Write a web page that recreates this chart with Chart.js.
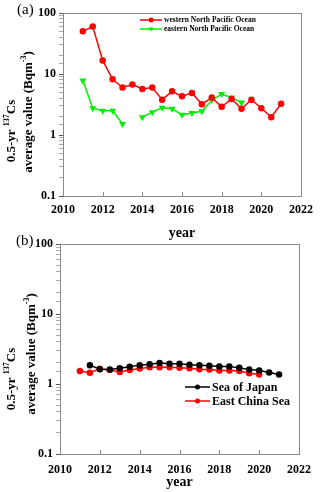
<!DOCTYPE html>
<html>
<head>
<meta charset="utf-8">
<script src="https://cdn.jsdelivr.net/npm/chart.js@4/dist/chart.umd.min.js"></script>
<style>
  body { margin: 0; background: #fff; width: 320px; height: 492px; position: relative; overflow: hidden; }
  .box { position: absolute; left: 0; width: 320px; }
</style>
</head>
<body>
<div class="box" style="top:0;height:242px"><canvas id="chartA"></canvas></div>
<div class="box" style="top:232px;height:260px"><canvas id="chartB"></canvas></div>
<script>
// panel (a): half-year steps 2011 - 2021
const yearsA = [2011, 2011.5, 2012, 2012.5, 2013, 2013.5, 2014, 2014.5, 2015, 2015.5, 2016,
  2016.5, 2017, 2017.5, 2018, 2018.5, 2019, 2019.5, 2020, 2020.5, 2021]
const westernNP = [50, 60, 16.7, 8.2, 6.0, 6.7, 5.7, 6.0, 3.8, 5.2, 4.3, 4.9, 3.2, 4.1, 2.9, 3.9, 2.7, 3.8, 2.75, 1.96, 3.25]
const easternNP = [7.8, 2.75, 2.5, 2.5, 1.52, null, 1.96, 2.37, 2.8, 2.7, 2.14, 2.3, 2.45, 3.7, 4.7, 4.1, 3.4]

// panel (b)
const yearsJapan = [2011.5, 2012, 2012.5, 2013, 2013.5, 2014, 2014.5, 2015, 2015.5, 2016,
  2016.5, 2017, 2017.5, 2018, 2018.5, 2019, 2019.5, 2020, 2020.5, 2021]
const seaOfJapan = [1.86, 1.63, 1.61, 1.68, 1.76, 1.86, 1.92, 2.0, 1.94, 1.94, 1.88, 1.86, 1.82, 1.78, 1.78, 1.70, 1.61, 1.56, 1.46, 1.37]
const yearsChina = [2011, 2011.5, 2012, 2012.5, 2013, 2013.5, 2014, 2014.5, 2015, 2015.5, 2016,
  2016.5, 2017, 2017.5, 2018, 2018.5, 2019, 2019.5, 2020]
const eastChinaSea = [1.53, 1.45, 1.65, 1.59, 1.49, 1.59, 1.67, 1.74, 1.74, 1.74, 1.70, 1.68, 1.63, 1.61, 1.56, 1.56, 1.53, 1.42, 1.37]

const yTicks = [0.1, 1, 10, 100]
const xMin = 2010, xMax = 2022, xStep = 2

const SERIF = "'Liberation Serif', 'Times New Roman', serif"
const FRAME = "#8a8a8a"

function pts(xs, ys) {
  return ys.map((v, i) => ({ x: xs[i], y: v }))
}

// frame, inward x ticks, panel letter, rotated y title, legend
const decor = {
  id: "decor",
  afterDraw(chart, args, opts) {
    const ctx = chart.ctx
    const a = chart.chartArea
    ctx.save()
    ctx.strokeStyle = FRAME
    ctx.lineWidth = 1
    ctx.strokeRect(Math.round(a.left) + 0.5, Math.round(a.top) + 0.5, Math.round(a.right - a.left), Math.round(a.bottom - a.top))

    const xs = chart.scales.x
    ctx.beginPath()
    xs.ticks.forEach(t => {
      const px = Math.round(xs.getPixelForValue(t.value)) + 0.5
      ctx.moveTo(px, a.bottom)
      ctx.lineTo(px, a.bottom - 4)
    })
    ctx.stroke()

    ctx.fillStyle = "#000"
    ctx.font = "15px " + SERIF
    ctx.textAlign = "left"
    ctx.textBaseline = "middle"
    ctx.fillText(opts.letter, opts.letterX, opts.letterY)

    // y title, two lines with superscripts
    opts.titleLines.forEach((line, k) => {
      ctx.save()
      ctx.translate(opts.titleX[k], opts.titleY[k])
      ctx.rotate(-Math.PI / 2)
      let w = 0
      line.forEach(p => {
        ctx.font = "bold " + (p.sup ? 8 : 13) + "px " + SERIF
        w += ctx.measureText(p.t).width
      })
      let x = -w / 2
      ctx.textAlign = "left"
      ctx.textBaseline = "middle"
      line.forEach(p => {
        ctx.font = "bold " + (p.sup ? 8 : 13) + "px " + SERIF
        ctx.fillText(p.t, x, p.sup ? -5 : 0)
        x += ctx.measureText(p.t).width
      })
      ctx.restore()
    })

    // legend
    const L = opts.legend
    chart.data.datasets.forEach((ds, i) => {
      const y = L.y + i * L.gap
      ctx.strokeStyle = ds.borderColor
      ctx.lineWidth = ds.borderWidth
      ctx.beginPath()
      ctx.moveTo(L.x, y)
      ctx.lineTo(L.x + L.len, y)
      ctx.stroke()
      ctx.fillStyle = ds.borderColor
      ctx.beginPath()
      if (ds.pointStyle === "triangle") {
        const r = ds.pointRadius
        ctx.moveTo(L.x + L.len / 2 - r, y - r * 0.6)
        ctx.lineTo(L.x + L.len / 2 + r, y - r * 0.6)
        ctx.lineTo(L.x + L.len / 2, y + r)
      } else {
        ctx.arc(L.x + L.len / 2, y, ds.pointRadius, 0, Math.PI * 2)
      }
      ctx.fill()
      ctx.fillStyle = "#000"
      ctx.font = "bold " + L.size + "px " + SERIF
      ctx.textAlign = "left"
      ctx.textBaseline = "middle"
      ctx.fillText(ds.label, L.x + L.len + 2, y + 0.5)
    })
    ctx.restore()
  }
}

function makeOptions(box, xAxisHeight, tickPad, titlePadBottom, decorOpts) {
  return {
    responsive: true,
    maintainAspectRatio: false,
    animation: false,
    layout: { padding: { top: box.top, right: box.right, left: 0, bottom: 0 } },
    plugins: { legend: { display: false }, tooltip: { enabled: false }, decor: decorOpts },
    scales: {
      x: {
        type: "linear",
        min: xMin, max: xMax,
        border: { color: FRAME },
        grid: { display: false, drawTicks: false },
        ticks: {
          stepSize: xStep,
          padding: tickPad,
          color: "#000",
          font: { family: SERIF, size: 12, weight: "bold" },
          maxRotation: 0,
          callback: v => String(v)
        },
        title: {
          display: true,
          text: "year",
          color: "#000",
          font: { family: SERIF, size: 14, weight: "bold" },
          padding: { top: 0, bottom: titlePadBottom }
        },
        afterFit: s => { s.height = xAxisHeight }
      },
      y: {
        type: "logarithmic",
        min: yTicks[0], max: yTicks[yTicks.length - 1],
        border: { color: FRAME },
        grid: {
          drawOnChartArea: false,
          tickLength: 4,
          tickColor: c => yTicks.includes(c.tick.value) ? "#555" : "#aaa"
        },
        ticks: {
          autoSkip: false,
          padding: 3,
          color: "#000",
          font: { family: SERIF, size: 12, weight: "bold" },
          callback: v => yTicks.includes(v) ? String(v) : ""
        },
        afterFit: s => { s.width = box.left }
      }
    }
  }
}

const titleLines = [
  [{ t: "0.5-yr " }, { t: "137", sup: true }, { t: "Cs" }],
  [{ t: "average value (Bqm" }, { t: "-3", sup: true }, { t: ")" }]
]

new Chart(document.getElementById("chartA"), {
  type: "line",
  data: {
    datasets: [
      {
        label: "western North Pacific Ocean",
        data: pts(yearsA, westernNP),
        borderColor: "#ff0000", backgroundColor: "#ff0000",
        borderWidth: 1.5, pointRadius: 2.5, pointStyle: "circle", tension: 0
      },
      {
        label: "eastern North Pacific Ocean",
        data: pts(yearsA, easternNP),
        borderColor: "#00ee00", backgroundColor: "#00ee00",
        borderWidth: 1.5, pointRadius: 2.5, pointStyle: "triangle", pointRotation: 180, tension: 0
      }
    ]
  },
  options: makeOptions({ top: 13, right: 14, left: 63 }, 46, 7, 0, {
    letter: "(a)", letterX: 17, letterY: 10,
    titleLines: titleLines, titleX: [12, 29], titleY: [131, 112],
    legend: { x: 140, y: 20, gap: 9, len: 22, size: 7.5 }
  }),
  plugins: [decor]
})

new Chart(document.getElementById("chartB"), {
  type: "line",
  data: {
    datasets: [
      {
        label: "Sea of Japan",
        data: pts(yearsJapan, seaOfJapan),
        borderColor: "#000000", backgroundColor: "#000000",
        borderWidth: 1.5, pointRadius: 2.5, pointStyle: "circle", tension: 0
      },
      {
        label: "East China Sea",
        data: pts(yearsChina, eastChinaSea),
        borderColor: "#ff0000", backgroundColor: "#ff0000",
        borderWidth: 1.5, pointRadius: 2.5, pointStyle: "circle", tension: 0
      }
    ]
  },
  options: makeOptions({ top: 12, right: 17, left: 60 }, 38, 9, 1, {
    letter: "(b)", letterX: 16, letterY: 9,
    titleLines: titleLines, titleX: [12, 32], titleY: [147, 122],
    legend: { x: 185, y: 155, gap: 14, len: 25, size: 12 }
  }),
  plugins: [decor]
})
</script>
</body>
</html>
